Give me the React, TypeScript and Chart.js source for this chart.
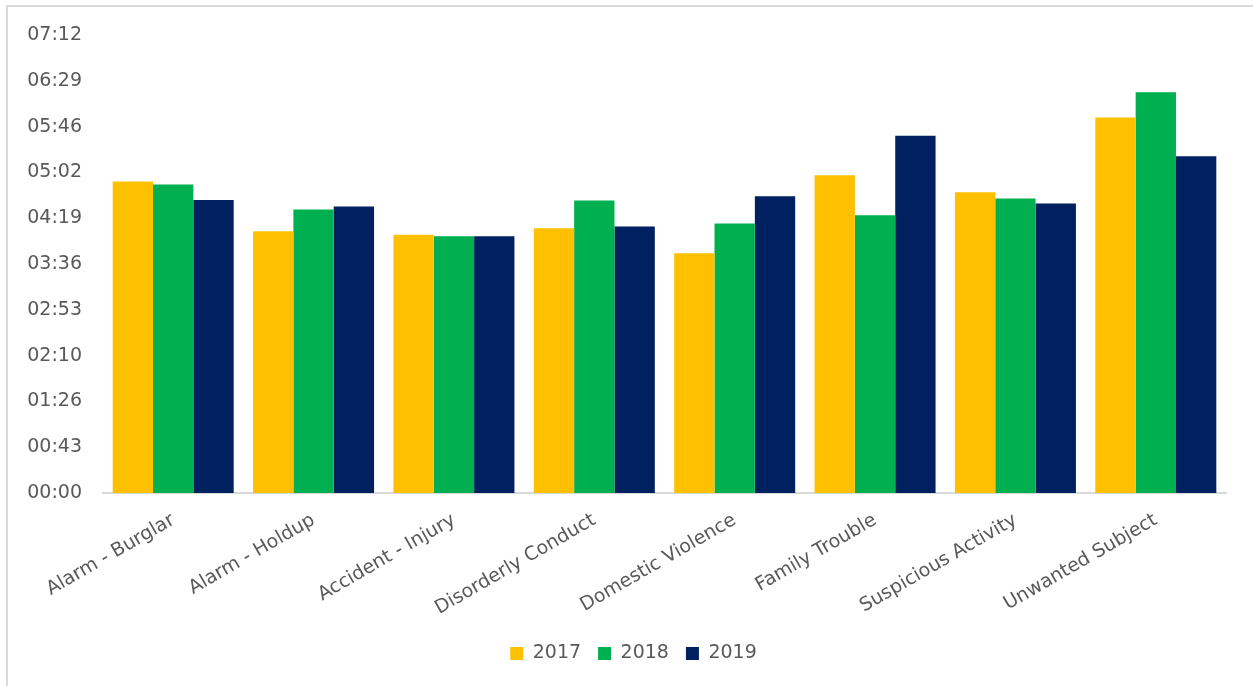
import React, { useEffect, useRef } from "react";
import { Chart, registerables } from "chart.js";

Chart.register(...registerables);

const categories = [
  "Alarm - Burglar",
  "Alarm - Holdup",
  "Accident - Injury",
  "Disorderly Conduct",
  "Domestic Violence",
  "Family Trouble",
  "Suspicious Activity",
  "Unwanted Subject",
];
const seriesNames = ["2017", "2018", "2019"];
// response times in seconds
const values2017 = [293.8, 246.9, 243.7, 249.7, 226.1, 299.8, 283.7, 354.3];
const values2018 = [291.0, 267.3, 242.1, 275.9, 254.1, 262.0, 277.7, 377.9];
const values2019 = [276.4, 270.2, 242.1, 251.3, 279.9, 336.9, 273.0, 317.7];
const yTickSeconds = [0, 43.2, 86.4, 129.6, 172.8, 216, 259.2, 302.4, 345.6, 388.8, 432];
const seriesColors = ["#FFC000", "#00B050", "#002060"];

const FONT = "'DejaVu Sans', sans-serif";
const TEXT = "#595959";

function fmt(v: number): string {
  const s = Math.round(v);
  const m = Math.floor(s / 60);
  const sec = s % 60;
  return String(m).padStart(2, "0") + ":" + String(sec).padStart(2, "0");
}

export default function App() {
  const ref = useRef<HTMLCanvasElement | null>(null);
  useEffect(() => {
    if (!ref.current) return;
    const all = [values2017, values2018, values2019];
    const chart = new Chart(ref.current, {
      type: "bar",
      data: {
        labels: categories,
        datasets: seriesNames.map((n, i) => ({
          label: n,
          data: all[i],
          backgroundColor: seriesColors[i],
          borderWidth: 0,
          categoryPercentage: 0.862,
          barPercentage: 1.0,
          yAxisID: "y",
        })),
      },
      options: {
        animation: false,
        responsive: false,
        devicePixelRatio: 1,
        layout: { padding: { left: 14, right: 0, top: 35, bottom: 13 } },
        plugins: {
          legend: {
            position: "bottom",
            labels: {
              boxWidth: 13,
              boxHeight: 13,
              padding: 17,
              color: TEXT,
              font: { family: FONT, size: 19 },
            },
          },
          tooltip: { enabled: false },
        },
        scales: {
          x: {
            grid: { display: false },
            border: { display: true, color: "#d9d9d9", width: 2 },
            ticks: {
              color: TEXT,
              font: { family: FONT, size: 19 },
              minRotation: 30,
              maxRotation: 30,
              padding: 8,
            },
            afterFit: (s: any) => {
              s.height = 134;
            },
          },
          y: {
            position: "left",
            min: 0,
            max: 432,
            grid: { display: false, drawTicks: false },
            border: { display: false },
            ticks: {
              color: TEXT,
              font: { family: FONT, size: 19 },
              padding: 21,
              callback: (v: any) => fmt(Number(v)),
            },
            afterBuildTicks: (s: any) => {
              s.ticks = yTickSeconds.map((v) => ({ value: v }));
            },
            afterFit: (s: any) => {
              s.width = 89;
            },
          },
          yRight: {
            position: "right",
            display: true,
            min: 0,
            max: 432,
            grid: { display: false, drawTicks: false },
            border: { display: false },
            ticks: { display: false },
            afterFit: (s: any) => {
              s.width = 27;
            },
          },
        },
      },
    });
    return () => chart.destroy();
  }, []);

  return (
    <div style={{ position: "fixed", left: 0, top: 0, width: 1253, height: 686, overflow: "hidden", background: "#fff" }}>
      <div
        style={{
          position: "absolute",
          left: 6,
          top: 5,
          width: 1400,
          height: 900,
          border: "2px solid #d9d9d9",
          boxSizing: "border-box",
        }}
      />
      <canvas ref={ref} width={1253} height={686} style={{ position: "absolute", left: 0, top: 0, width: 1253, height: 686 }} />
    </div>
  );
}
